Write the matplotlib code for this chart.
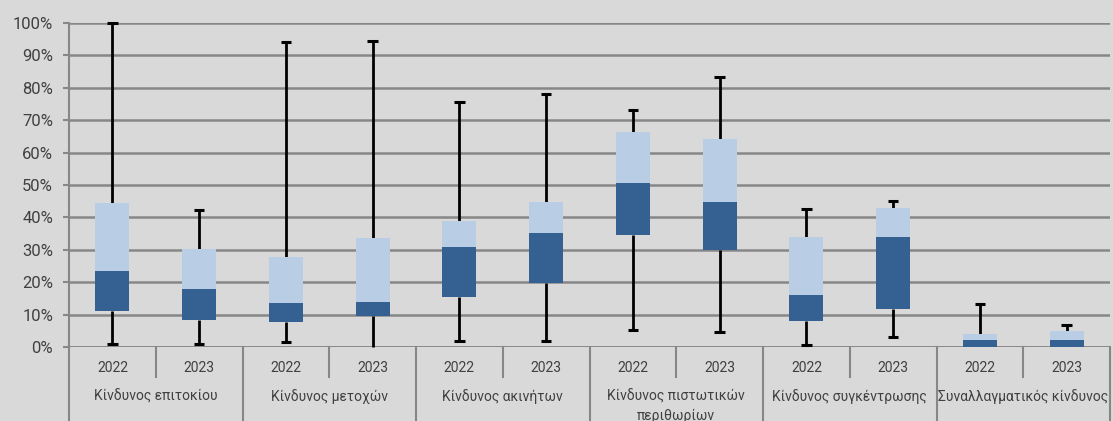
import matplotlib
matplotlib.use("Agg")
import matplotlib.pyplot as plt
import matplotlib.transforms as mtransforms
import numpy as np

plt.rcParams['font.family'] = ['Roboto', 'DejaVu Sans']

# data (percent)
groups = ["Κίνδυνος επιτοκίου", "Κίνδυνος μετοχών", "Κίνδυνος ακινήτων",
          "Κίνδυνος πιστωτικών\nπεριθωρίων", "Κίνδυνος συγκέντρωσης",
          "Συναλλαγματικός κίνδυνος"]
years = ["2022", "2023"]
mins = [1.0, 0.8, 1.5, 0.0, 1.9, 1.9, 5.1, 4.7, 0.6, 3.2, 0.0, 0.0]
q1 = [11.1, 8.2, 7.6, 9.7, 15.3, 19.7, 34.6, 29.9, 8.0, 11.7, 0.0, 0.0]
medians = [23.4, 17.9, 13.6, 13.9, 30.8, 35.1, 50.5, 44.7, 16.2, 33.9, 2.2, 2.2]
q3 = [44.3, 30.2, 27.8, 33.5, 38.9, 44.7, 66.4, 64.1, 33.9, 42.8, 4.1, 4.9]
maxs = [100.0, 42.2, 94.0, 94.3, 75.5, 78.0, 73.1, 83.2, 42.7, 45.2, 13.3, 6.8]

bg = "#D9D9D9"
dark = "#356092"
light = "#B9CDE5"
grid = "#878787"
txt = "#404040"

fig = plt.figure(figsize=(11.13, 4.21), dpi=100, facecolor=bg)
ax = fig.add_axes([69 / 1113, 1 - 347 / 421, 1041 / 1113, 324 / 421])
ax.set_facecolor(bg)

x = np.arange(len(medians))
mins, q1, medians, q3, maxs = map(np.array, (mins, q1, medians, q3, maxs))

ax.set_xlim(-0.5, len(x) - 0.5)
ax.set_ylim(0, 100)
ax.set_yticks(np.arange(0, 101, 10))
ax.set_yticklabels([f"{v}%" for v in range(0, 101, 10)], fontsize=12, color=txt)
ax.yaxis.grid(True, color=grid, lw=1.8)
ax.set_axisbelow(True)
ax.tick_params(axis='y', length=4.5, width=1.5, color=grid, pad=7)
ax.set_xticks([])
for s in ["top", "right", "bottom"]:
    ax.spines[s].set_visible(False)
ax.spines["left"].set_color(grid)
ax.spines["left"].set_linewidth(1.5)

w = 0.39
cap = 0.12
# whiskers
for xi, lo, a, b, hi in zip(x, mins, q1, q3, maxs):
    if hi > b:
        ax.vlines(xi, b, hi, color="black", lw=2, zorder=3, clip_on=False)
        ax.hlines(hi, xi - cap / 2, xi + cap / 2, color="black", lw=2.2, zorder=3, clip_on=False)
    if a > lo:
        ax.vlines(xi, lo, a, color="black", lw=2, zorder=3, clip_on=False)
        if lo > 0:
            ax.hlines(lo, xi - cap / 2, xi + cap / 2, color="black", lw=2.2, zorder=3, clip_on=False)

ax.bar(x, medians - q1, w, bottom=q1, color=dark, zorder=4)
ax.bar(x, q3 - medians, w, bottom=medians, color=light, zorder=4)

# category axis
trans = mtransforms.blended_transform_factory(ax.transData, ax.transAxes)
ax.axhline(0, color=grid, lw=1.8, zorder=2)
for i in range(len(groups) + 1):
    ax.plot([i * 2 - 0.5] * 2, [0, -0.25], color=grid, lw=1.5, transform=trans, clip_on=False)
for i in range(len(groups)):
    ax.plot([i * 2 + 0.5] * 2, [0, -0.092], color=grid, lw=1.5, transform=trans, clip_on=False)
    for j, yr in enumerate(years):
        ax.text(i * 2 + j, -0.066, yr, transform=trans, ha="center", va="center",
                fontsize=10, color=txt)
    ax.text(i * 2 + 0.5, -0.131, groups[i], transform=trans, ha="center", va="top",
            fontsize=10, color=txt, linespacing=1.45)

fig.savefig("out.png", dpi=100, facecolor=bg)
